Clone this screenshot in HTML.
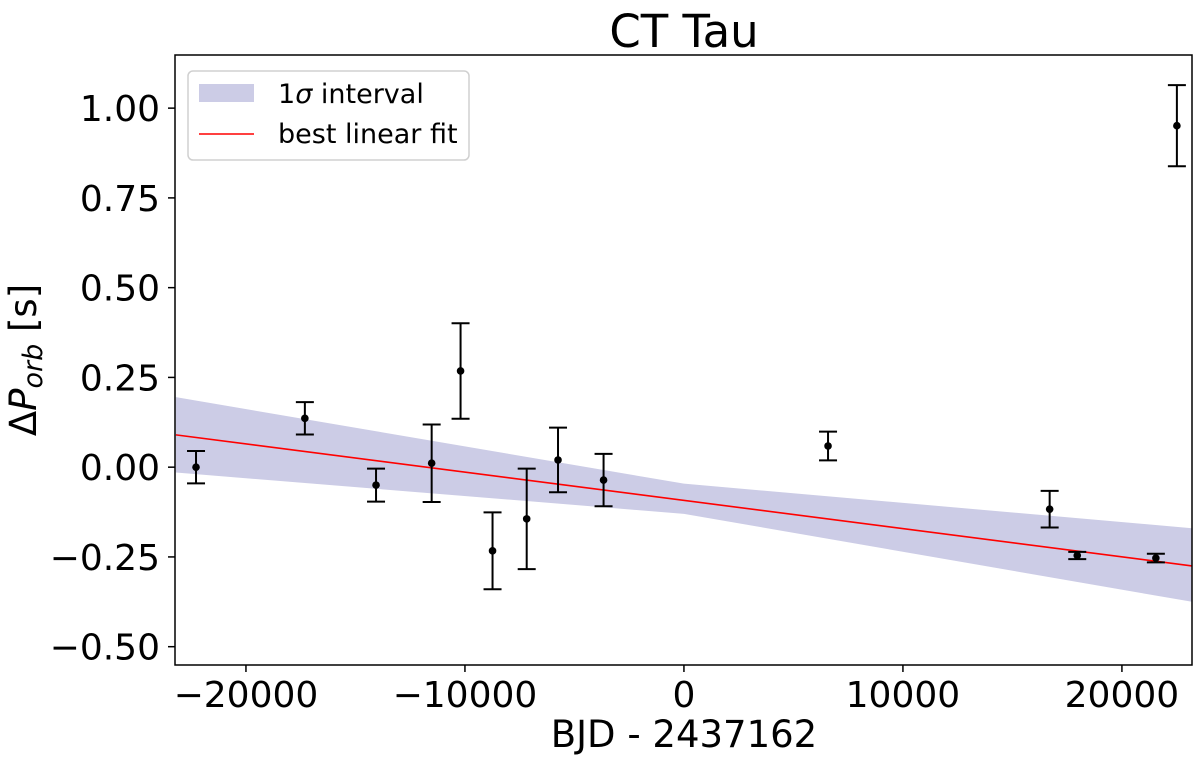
<!DOCTYPE html>
<html><head><meta charset="utf-8"><style>
body{margin:0;background:#fff}
svg text{font-family:"DejaVu Sans","Liberation Sans",sans-serif;fill:#000}
</style></head><body>
<svg id="chart" width="1200" height="758" xmlns="http://www.w3.org/2000/svg"></svg>
<script>
const xs = [-22280,-17310,-14060,-11520,-10200,-8740,-7180,-5750,-3670,6580,16700,17960,21550,22510];
const ys = [0.00,0.136,-0.05,0.011,0.268,-0.233,-0.144,0.02,-0.036,0.059,-0.117,-0.246,-0.253,0.951];
const errs = [0.045,0.045,0.046,0.108,0.133,0.107,0.14,0.09,0.073,0.04,0.051,0.01,0.012,0.113];
const bandX = [-23200,0,23200];
const bandUpper = [0.195,-0.046,-0.17];
const bandLower = [-0.015,-0.13,-0.375];
const fitX = [-23200,23200];
const fitY = [0.09,-0.275];
const xTicks = [-20000,-10000,0,10000,20000];
const yTicks = [-0.5,-0.25,0,0.25,0.5,0.75,1.0];
const yTickLabels = ["\u22120.50","\u22120.25","0.00","0.25","0.50","0.75","1.00"];
const xTickLabels = ["\u221220000","\u221210000","0","10000","20000"];

const L=175,R=1192,T=55,B=665;
const xmin=-23240,xmax=23200,ymin=-0.551,ymax=1.148;
const X=v=>L+(v-xmin)/(xmax-xmin)*(R-L);
const Y=v=>B-(v-ymin)/(ymax-ymin)*(B-T);
const svg=document.getElementById('chart');
const NS='http://www.w3.org/2000/svg';
function mk(tag,attrs,parent){const e=document.createElementNS(NS,tag);for(const k in attrs)e.setAttribute(k,attrs[k]);(parent||svg).appendChild(e);return e;}

const clip=mk('clipPath',{id:'pc'});mk('rect',{x:L,y:T,width:R-L,height:B-T},clip);
const g=mk('g',{'clip-path':'url(#pc)'});
let pts=bandX.map((x,i)=>X(x)+','+Y(bandUpper[i]));
for(let i=bandX.length-1;i>=0;i--)pts.push(X(bandX[i])+','+Y(bandLower[i]));
const band=mk('polygon',{points:pts.join(' '),fill:'#cccce6'},g);


const fit=mk('line',{x1:X(fitX[0]),y1:Y(fitY[0]),x2:X(fitX[1]),y2:Y(fitY[1]),stroke:'#ff0000','stroke-width':1.6},g);


xs.forEach((x,i)=>{
  const pg=mk('g',{},g);
  
  
  const cx=X(x),y1=Y(ys[i]+errs[i]),y2=Y(ys[i]-errs[i]);
  mk('line',{x1:cx,y1:y1,x2:cx,y2:y2,stroke:'#000','stroke-width':2},pg);
  mk('line',{x1:cx-9,y1:y1,x2:cx+9,y2:y1,stroke:'#000','stroke-width':2},pg);
  mk('line',{x1:cx-9,y1:y2,x2:cx+9,y2:y2,stroke:'#000','stroke-width':2},pg);
  mk('circle',{cx:cx,cy:Y(ys[i]),r:3.8,fill:'#000'},pg);
});
const frame=mk('rect',{x:L,y:T,width:R-L,height:B-T,fill:'none',stroke:'#000','stroke-width':1.5});


xTicks.forEach((t,i)=>{
  mk('line',{x1:X(t),y1:B,x2:X(t),y2:B+7,stroke:'#000','stroke-width':1.5});
  const tx=mk('text',{x:X(t),y:B+42,'text-anchor':'middle','font-size':36});
  tx.textContent=xTickLabels[i];
  
  
});
yTicks.forEach((t,i)=>{
  mk('line',{x1:L-7,y1:Y(t),x2:L,y2:Y(t),stroke:'#000','stroke-width':1.5});
  const tx=mk('text',{x:L-15,y:Y(t)+13,'text-anchor':'end','font-size':36});
  tx.textContent=yTickLabels[i];
  
  
});
</script>
<svg width="1200" height="758" style="position:absolute;left:0;top:0" xmlns="http://www.w3.org/2000/svg">
<text x="684" y="47" text-anchor="middle" font-size="45">CT Tau</text>
<text x="684" y="747" text-anchor="middle" font-size="37">BJD - 2437162</text>
<text transform="translate(36,360) rotate(-90)" text-anchor="middle" font-size="37">Δ<tspan font-style="italic">P</tspan><tspan font-style="italic" font-size="27" dy="6">orb</tspan><tspan dy="-6"> [s]</tspan></text>
<g>
<rect x="188" y="71" width="281" height="89" rx="5" fill="#fff" fill-opacity="0.8" stroke="#d0d0d0" stroke-width="1.5"/>
<rect x="199" y="84" width="55" height="18" fill="#cccce6"/>
<text x="278" y="103" font-size="27">1<tspan font-style="italic">σ</tspan> interval</text>
<line x1="199" y1="134" x2="254" y2="134" stroke="#ff0000" stroke-width="1.6"/>
<text x="278" y="143" font-size="27">best linear fit</text>
</g>
</svg>
</body></html>
